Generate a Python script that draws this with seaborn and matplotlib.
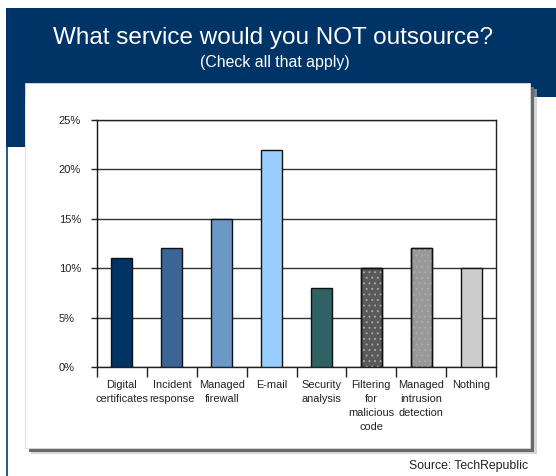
import matplotlib
matplotlib.use("Agg")
import matplotlib.pyplot as plt
import seaborn as sns
import pandas as pd
from matplotlib.patches import Rectangle

categories = ["Digital\ncertificates", "Incident\nresponse", "Managed\nfirewall", "E-mail",
              "Security\nanalysis", "Filtering\nfor\nmalicious\ncode", "Managed\nintrusion\ndetection",
              "Nothing"]
values = [11, 12, 15, 22, 8, 10, 12, 10]
colors = ["#003366", "#3a6596", "#6b98c6", "#99ccff", "#2f6264", "#5a5a5a", "#999999", "#cdcdcd"]
dotted = [False, False, False, False, False, True, True, False]
yticks = [0, 5, 10, 15, 20, 25]
ytick_labels = ["0%", "5%", "10%", "15%", "20%", "25%"]
title = "What service would you NOT outsource?"
subtitle = "(Check all that apply)"
source = "Source: TechRepublic"

sns.set_theme(style="white")
plt.rcParams['font.family'] = ['Liberation Sans', 'DejaVu Sans']
plt.rcParams['hatch.linewidth'] = 0.6

W, H = 556, 476
fig = plt.figure(figsize=(W / 100, H / 100), dpi=100)
fig.patch.set_facecolor("white")

def fr(x0, y0, x1, y1, **kw):
    fig.patches.append(Rectangle((x0 / W, 1 - y1 / H), (x1 - x0) / W, (y1 - y0) / H,
                                 transform=fig.transFigure, figure=fig, **kw))

navy = "#003366"
fr(6, 8, 556, 97, facecolor=navy, edgecolor="none", zorder=0)
fr(6, 8, 25, 147, facecolor=navy, edgecolor="none", zorder=0)
fr(5.5, 147, 7.5, 476, facecolor="#2a5a96", edgecolor="none", zorder=0)
fr(29, 87, 534, 452, facecolor="#6a6a6a", edgecolor="none", zorder=1)
fr(31, 89, 537, 454, facecolor="#bbbbbb", edgecolor="none", zorder=0.9, alpha=0.6)
fr(25, 83, 530, 448, facecolor="white", edgecolor="#dddddd", linewidth=0.6, zorder=2)

fig.text(273 / W, 1 - 38 / H, title, color="white", fontsize=17.5, ha="center", va="center")
fig.text(275 / W, 1 - 62 / H, subtitle, color="white", fontsize=11.4, ha="center", va="center")
fig.text(528 / W, 1 - 466 / H, source, color="#222222", fontsize=8.8, ha="right", va="center")

ax = fig.add_axes([97 / W, 1 - 367 / H, (496 - 97) / W, (367 - 120) / H], zorder=3)
ax.set_facecolor("none")

df = pd.DataFrame({"category": categories, "value": values})
sns.barplot(data=df, x="category", y="value", hue="category", palette=colors, legend=False,
            saturation=1, width=0.42, edgecolor="#111111", linewidth=1.0, ax=ax, zorder=3)

for p, d in zip(ax.patches, dotted):
    if d:
        ax.add_patch(Rectangle(p.get_xy(), p.get_width(), p.get_height(), fill=False,
                               hatch="...", edgecolor="#adadad", linewidth=0, zorder=3.5))
        ax.add_patch(Rectangle(p.get_xy(), p.get_width(), p.get_height(), fill=False,
                               edgecolor="#111111", linewidth=1.0, zorder=3.6))

ax.set_ylim(0, 25)
ax.set_xlim(-0.5, len(categories) - 0.5)
ax.set_yticks(yticks)
ax.set_yticklabels(ytick_labels, fontsize=8, color="#222222")
ax.yaxis.grid(True, color="#333333", linewidth=1.0)
ax.set_axisbelow(True)
ax.set_xticks([i - 0.5 for i in range(len(categories) + 1)], minor=False)
ax.set_xticklabels([])
ax.set_xticks(range(len(categories)), minor=True)
ax.set_xticklabels(categories, minor=True, fontsize=7.9, color="#222222", linespacing=1.5)
ax.tick_params(axis="x", which="major", direction="out", length=7, width=1, color="#222222", bottom=True)
ax.tick_params(axis="x", which="minor", length=0, pad=9)
ax.tick_params(axis="y", direction="out", length=4, width=1, color="#222222", left=True, pad=23.5)
for lab in ax.get_yticklabels():
    lab.set_horizontalalignment("left")
ax.set_xlabel("")
ax.set_ylabel("")
for s in ["left", "bottom", "right", "top"]:
    ax.spines[s].set_visible(True)
    ax.spines[s].set_color("#222222")
    ax.spines[s].set_linewidth(1.0)
ax.spines["left"].set_color("#111111")

fig.savefig("out.png", dpi=100)
